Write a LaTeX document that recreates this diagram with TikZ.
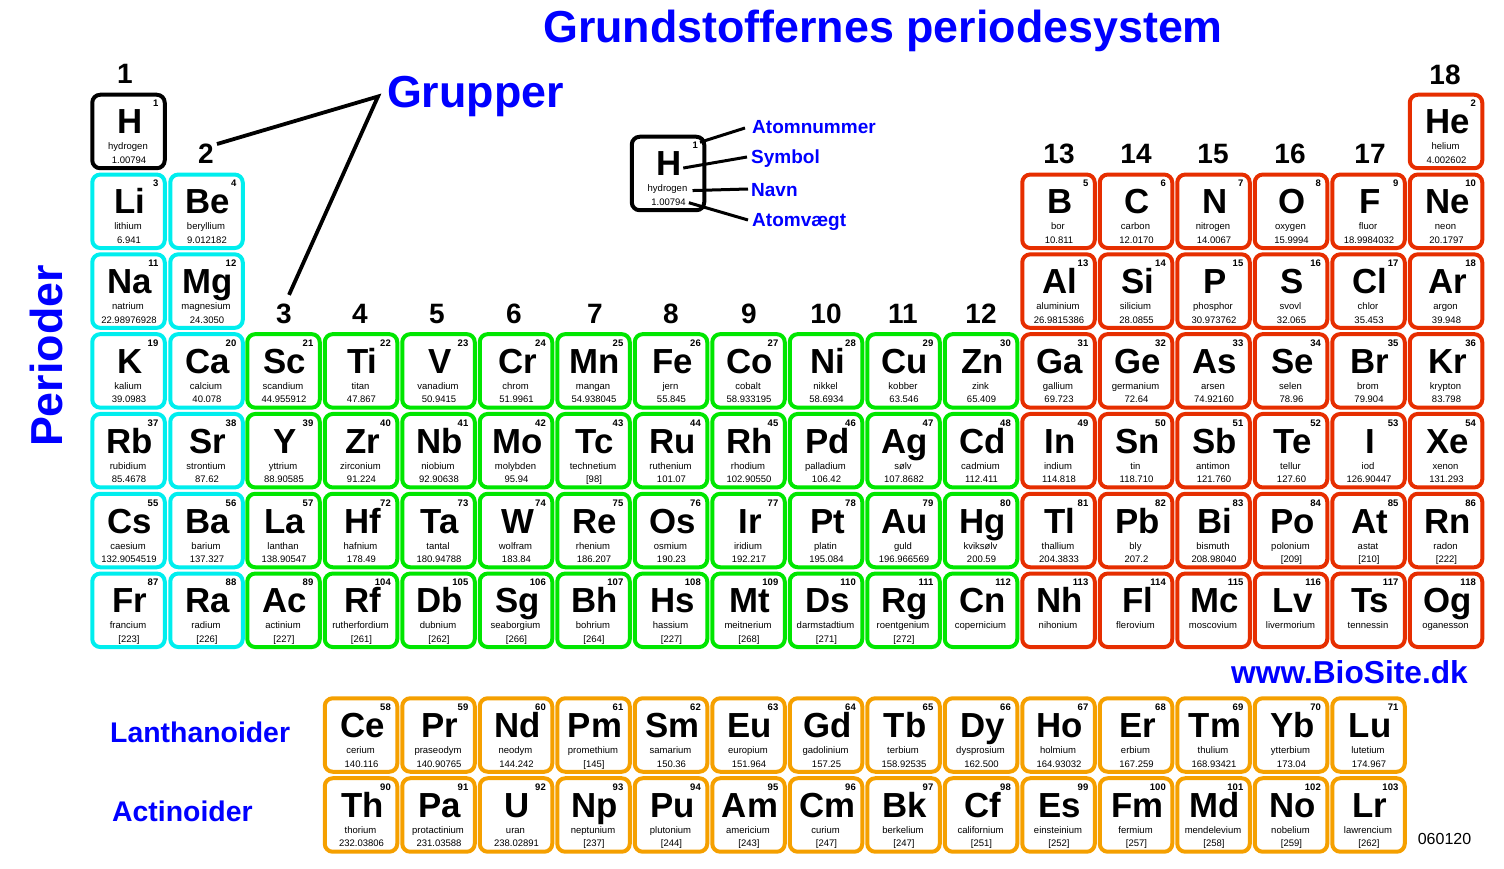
\documentclass[tikz,border=0pt]{standalone}
\usepackage{fontspec}
\setmainfont{Liberation Sans}
\usetikzlibrary{positioning}
\definecolor{alkaliColor}{HTML}{00EEEE}
\definecolor{transitionColor}{HTML}{00E600}
\definecolor{mainColor}{HTML}{E62E00}
\definecolor{seriesColor}{HTML}{F5A000}
\definecolor{headColor}{HTML}{0000FF}
\tikzstyle{sheet} = [x = 1pt, y = -1pt]
\tikzstyle{cellFrame} = [rectangle, rounded corners = 8pt, line width = 4pt, minimum width = 72.5pt, minimum height = 73.5pt, inner sep = 0pt, fill = white]
\tikzstyle{symbolText} = [font=\fontsize{34.8}{36}\selectfont\bfseries, anchor=base, inner sep=0pt]
\tikzstyle{numberText} = [font=\fontsize{9.5}{10}\selectfont\bfseries, anchor=base east, inner sep=0pt]
\tikzstyle{smallText} = [font=\fontsize{9.5}{10}\selectfont, anchor=base, inner sep=0pt]
\tikzstyle{groupText} = [font=\fontsize{28}{30}\selectfont\bfseries, inner sep=0pt]
\tikzstyle{headText} = [font=\fontsize{44.8}{46}\selectfont\bfseries, text=headColor, inner sep=0pt]
\tikzstyle{seriesText} = [font=\fontsize{28.4}{30}\selectfont\bfseries, text=headColor, inner sep=0pt, anchor=west]
\tikzstyle{keyText} = [font=\fontsize{19}{21}\selectfont\bfseries, text=headColor, inner sep=0pt, anchor=west]
\tikzstyle{pointer} = [line width=3pt, color=black]
\newcommand{\cellAt}[8]{
  \node [cellFrame, draw=#2] (#1) at (#3, #4) {};
  \node [symbolText] (#1-sym) at (#3 + 1.5, #4 + 2.5) {#5};
  \node [numberText] (#1-num) at (#3 + 30, #4 - 24.5) {#6};
  \node [smallText] (#1-name) at (#3 - 0.5, #4 + 18.5) {#7};
  \node [smallText] (#1-mass) at (#3 + 0.5, #4 + 32) {#8};
}
\newcommand{\elementCell}[7]{
  \pgfmathsetmacro{\cellX}{#2 < 3 ? 50.5 + 78 * #2 : 283.5 + 77.5 * (#2 - 3)}
  \pgfmathsetmacro{\cellY}{131.5 + 79.8 * (#3 - 1)}
  \cellAt{#4}{#1}{\cellX}{\cellY}{#4}{#5}{#6}{#7}
}
\begin{document}
\begin{tikzpicture}[sheet]
  \useasboundingbox (0, 0) rectangle (1504, 869);
  \node [headText] (title) at (883, 31) {Grundstoffernes periodesystem};
  \node [headText] (grupper) at (475.5, 96.5) {Grupper};
  \node [headText, rotate=90] (perioder) at (46, 356) {Perioder};
  \node [seriesText] (lanth) at (110, 732) {Lanthanoider};
  \node [seriesText] (actin) at (112, 811) {Actinoider};
  \node [font=\fontsize{31.7}{33}\selectfont\bfseries, text=headColor, inner sep=0pt] (site) at (1349.5, 672) {www.BioSite.dk};
  \node [font=\fontsize{16}{18}\selectfont, inner sep=0pt] (stamp) at (1444.5, 839) {060120};
  % group numbers
  \foreach \label/\posX/\posY in {1/125/74, 2/206/154, 3/284/314, 4/360/314, 5/437/314, 6/514/314, 7/595/314, 8/671/314, 9/749/314, 10/826/314, 11/903/314, 12/981/314, 13/1059/154, 14/1136/154, 15/1213/154, 16/1290/154, 17/1370/154, 18/1445/75} {
    \node [groupText] (group\label) at (\posX, \posY) {\label};
  }
  \coordinate (grupperTip) at (378, 96.5);
  \draw [line width=3.8pt, line join=miter] ([shift={(3,0)}]group2.north east) -- (grupperTip) -- ([shift={(5,-9)}]group3.north);
  % first two groups
  \elementCell{black}{1}{1}{H}{1}{hydrogen}{1.00794}
  \elementCell{alkaliColor}{1}{2}{Li}{3}{lithium}{6.941}
  \elementCell{alkaliColor}{2}{2}{Be}{4}{beryllium}{9.012182}
  \elementCell{alkaliColor}{1}{3}{Na}{11}{natrium}{22.98976928}
  \elementCell{alkaliColor}{2}{3}{Mg}{12}{magnesium}{24.3050}
  \elementCell{alkaliColor}{1}{4}{K}{19}{kalium}{39.0983}
  \elementCell{alkaliColor}{2}{4}{Ca}{20}{calcium}{40.078}
  \elementCell{alkaliColor}{1}{5}{Rb}{37}{rubidium}{85.4678}
  \elementCell{alkaliColor}{2}{5}{Sr}{38}{strontium}{87.62}
  \elementCell{alkaliColor}{1}{6}{Cs}{55}{caesium}{132.9054519}
  \elementCell{alkaliColor}{2}{6}{Ba}{56}{barium}{137.327}
  \elementCell{alkaliColor}{1}{7}{Fr}{87}{francium}{[223]}
  \elementCell{alkaliColor}{2}{7}{Ra}{88}{radium}{[226]}
  % transition metals
  \elementCell{transitionColor}{3}{4}{Sc}{21}{scandium}{44.955912}
  \elementCell{transitionColor}{4}{4}{Ti}{22}{titan}{47.867}
  \elementCell{transitionColor}{5}{4}{V}{23}{vanadium}{50.9415}
  \elementCell{transitionColor}{6}{4}{Cr}{24}{chrom}{51.9961}
  \elementCell{transitionColor}{7}{4}{Mn}{25}{mangan}{54.938045}
  \elementCell{transitionColor}{8}{4}{Fe}{26}{jern}{55.845}
  \elementCell{transitionColor}{9}{4}{Co}{27}{cobalt}{58.933195}
  \elementCell{transitionColor}{10}{4}{Ni}{28}{nikkel}{58.6934}
  \elementCell{transitionColor}{11}{4}{Cu}{29}{kobber}{63.546}
  \elementCell{transitionColor}{12}{4}{Zn}{30}{zink}{65.409}
  \elementCell{transitionColor}{3}{5}{Y}{39}{yttrium}{88.90585}
  \elementCell{transitionColor}{4}{5}{Zr}{40}{zirconium}{91.224}
  \elementCell{transitionColor}{5}{5}{Nb}{41}{niobium}{92.90638}
  \elementCell{transitionColor}{6}{5}{Mo}{42}{molybden}{95.94}
  \elementCell{transitionColor}{7}{5}{Tc}{43}{technetium}{[98]}
  \elementCell{transitionColor}{8}{5}{Ru}{44}{ruthenium}{101.07}
  \elementCell{transitionColor}{9}{5}{Rh}{45}{rhodium}{102.90550}
  \elementCell{transitionColor}{10}{5}{Pd}{46}{palladium}{106.42}
  \elementCell{transitionColor}{11}{5}{Ag}{47}{sølv}{107.8682}
  \elementCell{transitionColor}{12}{5}{Cd}{48}{cadmium}{112.411}
  \elementCell{transitionColor}{3}{6}{La}{57}{lanthan}{138.90547}
  \elementCell{transitionColor}{4}{6}{Hf}{72}{hafnium}{178.49}
  \elementCell{transitionColor}{5}{6}{Ta}{73}{tantal}{180.94788}
  \elementCell{transitionColor}{6}{6}{W}{74}{wolfram}{183.84}
  \elementCell{transitionColor}{7}{6}{Re}{75}{rhenium}{186.207}
  \elementCell{transitionColor}{8}{6}{Os}{76}{osmium}{190.23}
  \elementCell{transitionColor}{9}{6}{Ir}{77}{iridium}{192.217}
  \elementCell{transitionColor}{10}{6}{Pt}{78}{platin}{195.084}
  \elementCell{transitionColor}{11}{6}{Au}{79}{guld}{196.966569}
  \elementCell{transitionColor}{12}{6}{Hg}{80}{kviksølv}{200.59}
  \elementCell{transitionColor}{3}{7}{Ac}{89}{actinium}{[227]}
  \elementCell{transitionColor}{4}{7}{Rf}{104}{rutherfordium}{[261]}
  \elementCell{transitionColor}{5}{7}{Db}{105}{dubnium}{[262]}
  \elementCell{transitionColor}{6}{7}{Sg}{106}{seaborgium}{[266]}
  \elementCell{transitionColor}{7}{7}{Bh}{107}{bohrium}{[264]}
  \elementCell{transitionColor}{8}{7}{Hs}{108}{hassium}{[227]}
  \elementCell{transitionColor}{9}{7}{Mt}{109}{meitnerium}{[268]}
  \elementCell{transitionColor}{10}{7}{Ds}{110}{darmstadtium}{[271]}
  \elementCell{transitionColor}{11}{7}{Rg}{111}{roentgenium}{[272]}
  \elementCell{transitionColor}{12}{7}{Cn}{112}{copernicium}{}
  % last six groups
  \elementCell{mainColor}{18}{1}{He}{2}{helium}{4.002602}
  \elementCell{mainColor}{13}{2}{B}{5}{bor}{10.811}
  \elementCell{mainColor}{14}{2}{C}{6}{carbon}{12.0170}
  \elementCell{mainColor}{15}{2}{N}{7}{nitrogen}{14.0067}
  \elementCell{mainColor}{16}{2}{O}{8}{oxygen}{15.9994}
  \elementCell{mainColor}{17}{2}{F}{9}{fluor}{18.9984032}
  \elementCell{mainColor}{18}{2}{Ne}{10}{neon}{20.1797}
  \elementCell{mainColor}{13}{3}{Al}{13}{aluminium}{26.9815386}
  \elementCell{mainColor}{14}{3}{Si}{14}{silicium}{28.0855}
  \elementCell{mainColor}{15}{3}{P}{15}{phosphor}{30.973762}
  \elementCell{mainColor}{16}{3}{S}{16}{svovl}{32.065}
  \elementCell{mainColor}{17}{3}{Cl}{17}{chlor}{35.453}
  \elementCell{mainColor}{18}{3}{Ar}{18}{argon}{39.948}
  \elementCell{mainColor}{13}{4}{Ga}{31}{gallium}{69.723}
  \elementCell{mainColor}{14}{4}{Ge}{32}{germanium}{72.64}
  \elementCell{mainColor}{15}{4}{As}{33}{arsen}{74.92160}
  \elementCell{mainColor}{16}{4}{Se}{34}{selen}{78.96}
  \elementCell{mainColor}{17}{4}{Br}{35}{brom}{79.904}
  \elementCell{mainColor}{18}{4}{Kr}{36}{krypton}{83.798}
  \elementCell{mainColor}{13}{5}{In}{49}{indium}{114.818}
  \elementCell{mainColor}{14}{5}{Sn}{50}{tin}{118.710}
  \elementCell{mainColor}{15}{5}{Sb}{51}{antimon}{121.760}
  \elementCell{mainColor}{16}{5}{Te}{52}{tellur}{127.60}
  \elementCell{mainColor}{17}{5}{I}{53}{iod}{126.90447}
  \elementCell{mainColor}{18}{5}{Xe}{54}{xenon}{131.293}
  \elementCell{mainColor}{13}{6}{Tl}{81}{thallium}{204.3833}
  \elementCell{mainColor}{14}{6}{Pb}{82}{bly}{207.2}
  \elementCell{mainColor}{15}{6}{Bi}{83}{bismuth}{208.98040}
  \elementCell{mainColor}{16}{6}{Po}{84}{polonium}{[209]}
  \elementCell{mainColor}{17}{6}{At}{85}{astat}{[210]}
  \elementCell{mainColor}{18}{6}{Rn}{86}{radon}{[222]}
  \elementCell{mainColor}{13}{7}{Nh}{113}{nihonium}{}
  \elementCell{mainColor}{14}{7}{Fl}{114}{flerovium}{}
  \elementCell{mainColor}{15}{7}{Mc}{115}{moscovium}{}
  \elementCell{mainColor}{16}{7}{Lv}{116}{livermorium}{}
  \elementCell{mainColor}{17}{7}{Ts}{117}{tennessin}{}
  \elementCell{mainColor}{18}{7}{Og}{118}{oganesson}{}
  % the two series below
  \elementCell{seriesColor}{4}{8.5627}{Ce}{58}{cerium}{140.116}
  \elementCell{seriesColor}{5}{8.5627}{Pr}{59}{praseodym}{140.90765}
  \elementCell{seriesColor}{6}{8.5627}{Nd}{60}{neodym}{144.242}
  \elementCell{seriesColor}{7}{8.5627}{Pm}{61}{promethium}{[145]}
  \elementCell{seriesColor}{8}{8.5627}{Sm}{62}{samarium}{150.36}
  \elementCell{seriesColor}{9}{8.5627}{Eu}{63}{europium}{151.964}
  \elementCell{seriesColor}{10}{8.5627}{Gd}{64}{gadolinium}{157.25}
  \elementCell{seriesColor}{11}{8.5627}{Tb}{65}{terbium}{158.92535}
  \elementCell{seriesColor}{12}{8.5627}{Dy}{66}{dysprosium}{162.500}
  \elementCell{seriesColor}{13}{8.5627}{Ho}{67}{holmium}{164.93032}
  \elementCell{seriesColor}{14}{8.5627}{Er}{68}{erbium}{167.259}
  \elementCell{seriesColor}{15}{8.5627}{Tm}{69}{thulium}{168.93421}
  \elementCell{seriesColor}{16}{8.5627}{Yb}{70}{ytterbium}{173.04}
  \elementCell{seriesColor}{17}{8.5627}{Lu}{71}{lutetium}{174.967}
  \elementCell{seriesColor}{4}{9.565}{Th}{90}{thorium}{232.03806}
  \elementCell{seriesColor}{5}{9.565}{Pa}{91}{protactinium}{231.03588}
  \elementCell{seriesColor}{6}{9.565}{U}{92}{uran}{238.02891}
  \elementCell{seriesColor}{7}{9.565}{Np}{93}{neptunium}{[237]}
  \elementCell{seriesColor}{8}{9.565}{Pu}{94}{plutonium}{[244]}
  \elementCell{seriesColor}{9}{9.565}{Am}{95}{americium}{[243]}
  \elementCell{seriesColor}{10}{9.565}{Cm}{96}{curium}{[247]}
  \elementCell{seriesColor}{11}{9.565}{Bk}{97}{berkelium}{[247]}
  \elementCell{seriesColor}{12}{9.565}{Cf}{98}{californium}{[251]}
  \elementCell{seriesColor}{13}{9.565}{Es}{99}{einsteinium}{[252]}
  \elementCell{seriesColor}{14}{9.565}{Fm}{100}{fermium}{[257]}
  \elementCell{seriesColor}{15}{9.565}{Md}{101}{mendelevium}{[258]}
  \elementCell{seriesColor}{16}{9.565}{No}{102}{nobelium}{[259]}
  \elementCell{seriesColor}{17}{9.565}{Lr}{103}{lawrencium}{[262]}
  % key box and its labels
  \cellAt{key}{black}{668}{173.5}{H}{1}{hydrogen}{1.00794}
  \node [keyText] (keyNumLabel) at (752, 127) {Atomnummer};
  \node [keyText] (keySymLabel) at (751, 159) {Symbol};
  \node [keyText] (keyNameLabel) at (751, 190) {Navn};
  \node [keyText] (keyMassLabel) at (752, 222) {Atomvægt};
  \draw [pointer] ([shift={(2,0)}]key-num.north east) -- ([xshift=-7pt, yshift=-1pt]keyNumLabel.west);
  \draw [pointer] ([shift={(1,4)}]key-sym.east) -- ([xshift=-4pt, yshift=2pt]keySymLabel.west);
  \draw [pointer] ([shift={(5,1)}]key-name.east) -- ([xshift=-3pt, yshift=1pt]keyNameLabel.west);
  \draw [pointer] ([shift={(3,0.5)}]key-mass.east) -- ([xshift=-4pt, yshift=2pt]keyMassLabel.west);
\end{tikzpicture}
\end{document}
